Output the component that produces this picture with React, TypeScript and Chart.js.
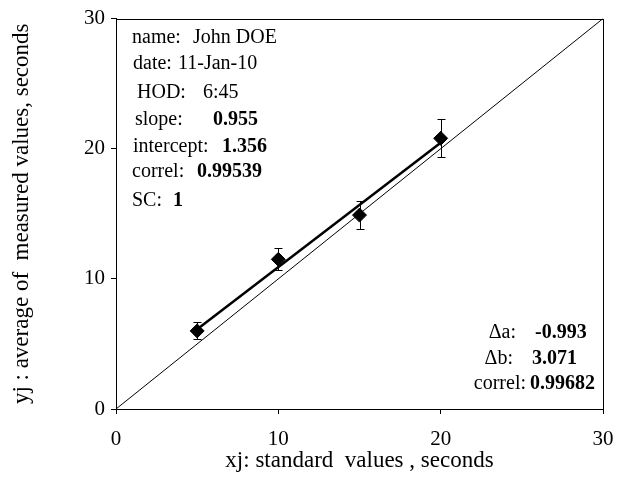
import React, { useEffect, useRef } from "react";
import { Chart, registerables } from "chart.js";

Chart.register(...registerables);

// Standard values (x) and averaged measurements (y) with their spread
const standardValues = [5, 10, 15, 20];
const measuredMeans = [6.0, 11.5, 14.9, 20.8];
const errorHalfWidths = [0.65, 0.85, 1.1, 1.45];

// Regression results
const fitSlope = 0.955;
const fitIntercept = 1.356;
const fitRange = [5, 20];

const axisMin = 0;
const axisMax = 30;
const axisStep = 10;

// Info block (top left)
const infoLabels = ["name:", "date:", "HOD:", "slope:", "intercept:", "correl:", "SC:"];
const infoValues = ["John DOE", "11-Jan-10", "6:45", "0.955", "1.356", "0.99539", "1"];
const infoBold = [false, false, false, true, true, true, true];

// Comparison block (bottom right)
const deltaLabels = ["\u0394a:", "\u0394b:", "correl:"];
const deltaValues = ["-0.993", "3.071", "0.99682"];

const FONT = "'Liberation Serif', 'Times New Roman', serif";

const frameAndAnnotations = {
  id: "frameAndAnnotations",
  afterDatasetsDraw(chart: any) {
    const { ctx, chartArea, scales } = chart;
    const ys = scales.y;

    // error bars on the measured points
    const meta = chart.getDatasetMeta(2);
    ctx.save();
    ctx.strokeStyle = "#000";
    ctx.lineWidth = 1;
    meta.data.forEach((pt: any, i: number) => {
      const x = Math.round(pt.x) + 0.5;
      const top = Math.round(ys.getPixelForValue(measuredMeans[i] + errorHalfWidths[i])) + 0.5;
      const bot = Math.round(ys.getPixelForValue(measuredMeans[i] - errorHalfWidths[i])) + 0.5;
      ctx.beginPath();
      ctx.moveTo(x, top);
      ctx.lineTo(x, bot);
      ctx.moveTo(x - 4, top);
      ctx.lineTo(x + 4, top);
      ctx.moveTo(x - 4, bot);
      ctx.lineTo(x + 4, bot);
      ctx.stroke();
    });
    ctx.restore();

    // plot frame
    ctx.save();
    ctx.strokeStyle = "#000";
    ctx.lineWidth = 1;
    ctx.strokeRect(
      Math.round(chartArea.left) + 0.5,
      Math.round(chartArea.top) + 0.5,
      Math.round(chartArea.right - chartArea.left),
      Math.round(chartArea.bottom - chartArea.top)
    );
    ctx.restore();

    // text blocks
    ctx.save();
    ctx.fillStyle = "#000";
    ctx.textBaseline = "middle";
    const infoRows = [
      { lx: 132, vx: 193, y: 38 },
      { lx: 133, vx: 178, y: 64 },
      { lx: 137, vx: 203, y: 93 },
      { lx: 135, vx: 213, y: 120 },
      { lx: 133, vx: 222, y: 147 },
      { lx: 132, vx: 197, y: 172 },
      { lx: 132, vx: 173, y: 201 },
    ];
    infoLabels.forEach((label, i) => {
      const r = infoRows[i];
      ctx.textAlign = "left";
      ctx.font = `20px ${FONT}`;
      ctx.fillText(label, r.lx, r.y);
      ctx.font = `${infoBold[i] ? "bold " : ""}20px ${FONT}`;
      ctx.fillText(infoValues[i], r.vx, r.y);
    });

    const deltaRows = [
      { lx: 516, vx: 535, y: 333 },
      { lx: 513, vx: 532, y: 359 },
      { lx: 526, vx: 530, y: 384 },
    ];
    deltaLabels.forEach((label, i) => {
      const r = deltaRows[i];
      ctx.textAlign = "right";
      ctx.font = `20px ${FONT}`;
      ctx.fillText(label, r.lx, r.y);
      ctx.textAlign = "left";
      ctx.font = `bold 20px ${FONT}`;
      ctx.fillText(deltaValues[i], r.vx, r.y);
    });
    ctx.restore();
  },
};

export default function App() {
  const canvasRef = useRef<HTMLCanvasElement | null>(null);

  useEffect(() => {
    if (!canvasRef.current) return;
    const pointData = standardValues.map((x, i) => ({ x, y: measuredMeans[i] }));
    const fitData = fitRange.map((x) => ({ x, y: fitSlope * x + fitIntercept }));
    const identityData = [
      { x: axisMin, y: axisMin },
      { x: axisMax, y: axisMax },
    ];

    const gridStyle = {
      display: true,
      drawOnChartArea: false,
      drawTicks: true,
      tickLength: 5,
      color: "#000",
    };

    const chart = new Chart(canvasRef.current, {
      type: "scatter",
      data: {
        datasets: [
          {
            data: identityData,
            showLine: true,
            borderColor: "#000",
            borderWidth: 1,
            pointRadius: 0,
          },
          {
            data: fitData,
            showLine: true,
            borderColor: "#000",
            borderWidth: 2.5,
            pointRadius: 0,
          },
          {
            data: pointData,
            showLine: false,
            pointStyle: "rectRot",
            pointRadius: 7,
            backgroundColor: "#000",
            borderColor: "#000",
          },
        ],
      },
      options: {
        responsive: false,
        animation: false,
        layout: { padding: { top: 17, right: 36, left: 0, bottom: 0 } },
        plugins: {
          legend: { display: false },
          tooltip: { enabled: false },
        },
        scales: {
          x: {
            type: "linear",
            min: axisMin,
            max: axisMax,
            position: "bottom",
            grid: gridStyle,
            border: { display: true, color: "#000", width: 1 },
            ticks: {
              stepSize: axisStep,
              color: "#000",
              font: { family: FONT, size: 21 },
              padding: 13,
            },
            afterFit: (scale: any) => {
              scale.height = 71;
            },
            title: {
              display: true,
              text: "xj: standard  values , seconds",
              color: "#000",
              font: { family: FONT, size: 23 },
              padding: { top: 0, bottom: 5 },
            },
          },
          y: {
            type: "linear",
            min: axisMin,
            max: axisMax,
            position: "left",
            grid: gridStyle,
            border: { display: true, color: "#000", width: 1 },
            ticks: {
              stepSize: axisStep,
              color: "#000",
              font: { family: FONT, size: 21 },
              padding: 6,
            },
            afterFit: (scale: any) => {
              scale.width = 116;
            },
            title: {
              display: true,
              text: "yj : average of  measured values, seconds",
              color: "#000",
              font: { family: FONT, size: 23 },
              padding: { top: 8, bottom: 0 },
            },
          },
        },
      },
      plugins: [frameAndAnnotations],
    });
    return () => chart.destroy();
  }, []);

  return (
    <div style={{ position: "absolute", left: 0, top: 0, width: 639, height: 480, background: "#fff" }}>
      <canvas ref={canvasRef} width={639} height={480} />
    </div>
  );
}
